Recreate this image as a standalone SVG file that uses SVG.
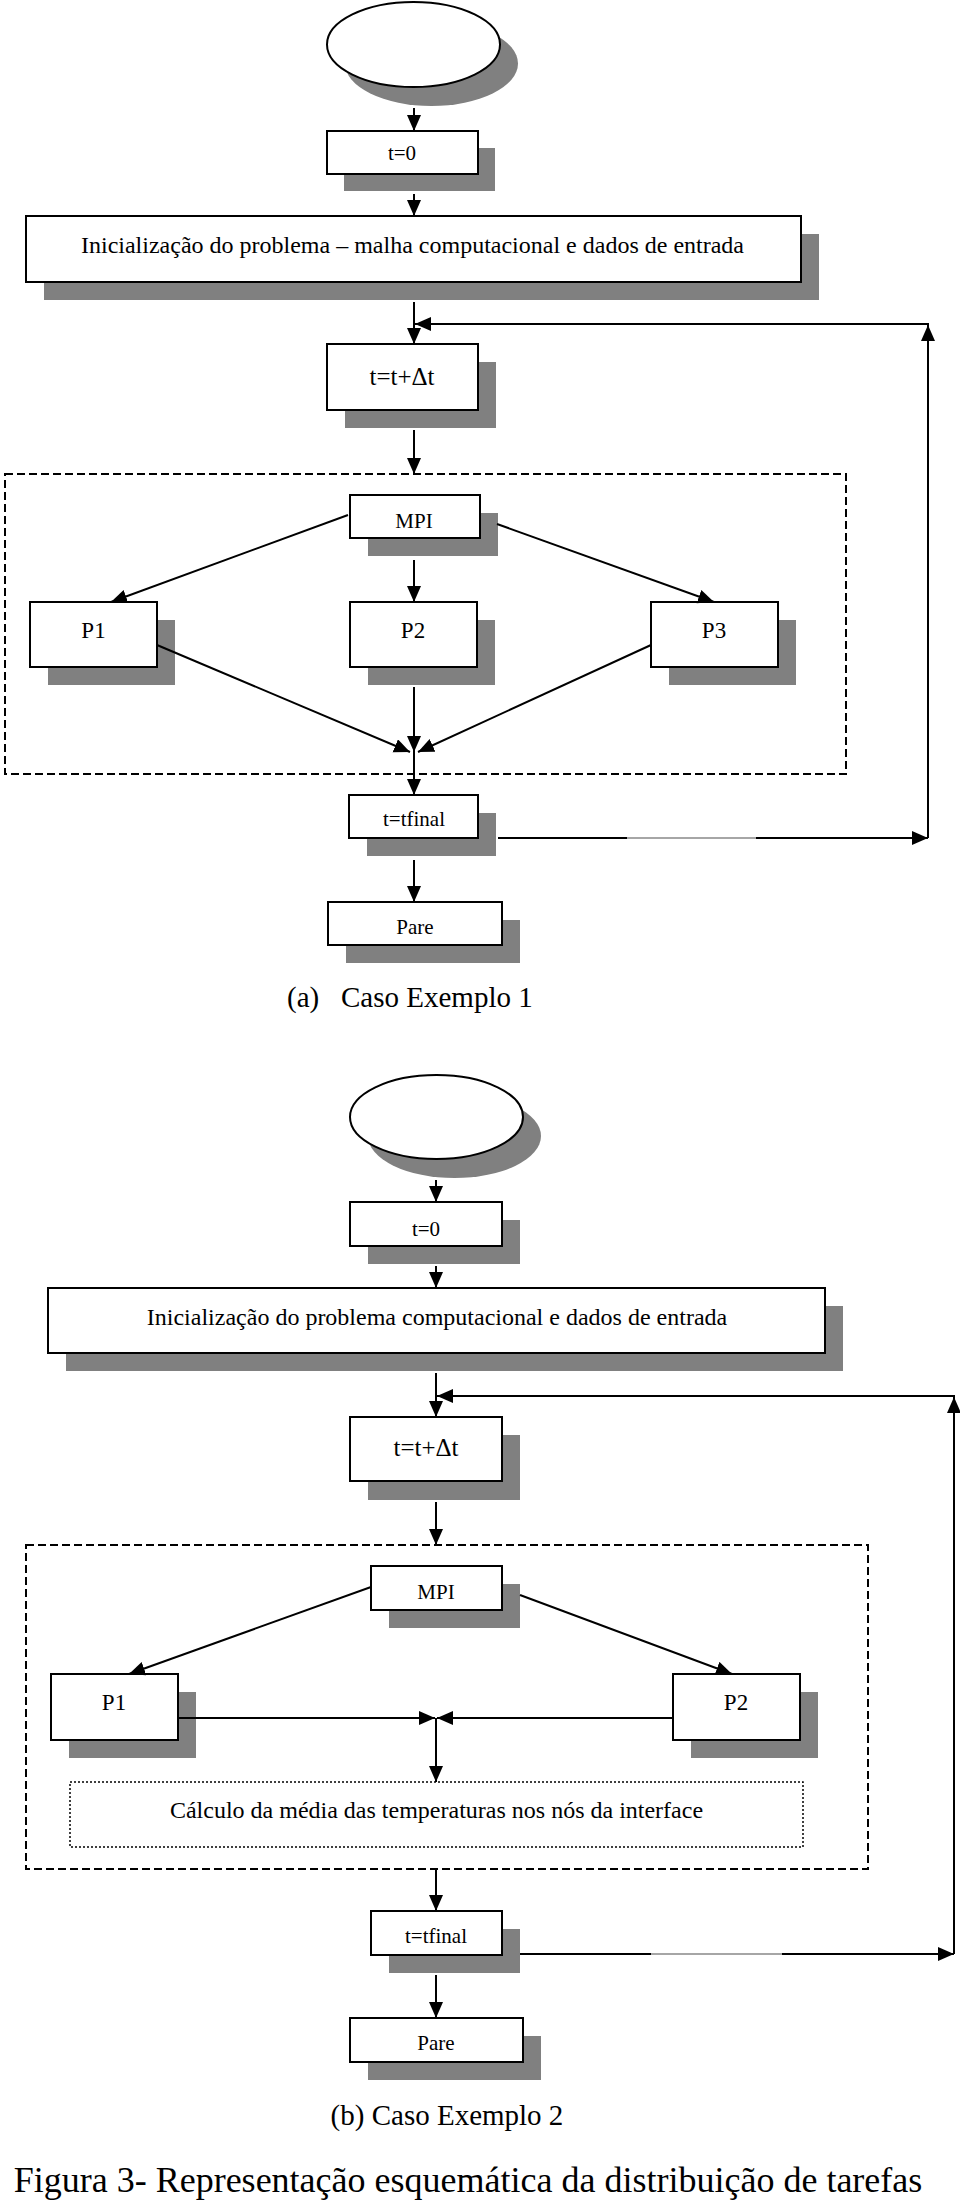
<svg xmlns="http://www.w3.org/2000/svg" width="960" height="2200" viewBox="0 0 960 2200">
<defs>
<marker id="ah" markerUnits="userSpaceOnUse" markerWidth="17" markerHeight="15" refX="16" refY="7" orient="auto">
<path d="M0,0 L16,7 L0,14 z" fill="#000"/>
</marker>
<style>
.box{fill:#fff;stroke:#000;stroke-width:2}
.sh{fill:#808080;stroke:none}
.t{font-family:"Liberation Serif","Times New Roman",serif;fill:#000;text-anchor:middle}
.c{fill:none;stroke:#000;stroke-width:2;marker-end:url(#ah)}
.ln{fill:none;stroke:#000;stroke-width:2}
.gl{fill:none;stroke:#888;stroke-width:1.5}
.dash{fill:none;stroke:#000;stroke-width:2;stroke-dasharray:8 4}
.dot{fill:none;stroke:#000;stroke-width:1.5;stroke-dasharray:2 2}
</style>
</defs>
<rect width="960" height="2200" fill="#fff"/>

<!-- ===== Diagram (a) ===== -->
<g id="a-group"><rect class="dash" x="5" y="474" width="841" height="300"/></g>
<g id="a-start"><ellipse class="sh" cx="431.5" cy="63.5" rx="86.5" ry="42.5"/><ellipse class="box" cx="413.5" cy="44.5" rx="86.5" ry="42.5"/></g>
<g id="a-t0"><rect class="sh" x="344" y="148" width="151" height="43"/><rect class="box" x="327" y="131" width="151" height="43"/><text class="t" x="402" y="160" font-size="21">t=0</text></g>
<g id="a-init"><rect class="sh" x="44" y="234" width="775" height="66"/><rect class="box" x="26" y="216" width="775" height="66"/><text class="t" x="412.5" y="253" font-size="24">Inicialização do problema – malha computacional e dados de entrada</text></g>
<g id="a-tdt"><rect class="sh" x="345" y="362" width="151" height="66"/><rect class="box" x="327" y="344" width="151" height="66"/><text class="t" x="402" y="385" font-size="25">t=t+Δt</text></g>
<g id="a-mpi"><rect class="sh" x="368" y="513" width="130" height="43"/><rect class="box" x="350" y="495" width="130" height="43"/><text class="t" x="414" y="528" font-size="21">MPI</text></g>
<g id="a-p1"><rect class="sh" x="48" y="620" width="127" height="65"/><rect class="box" x="30" y="602" width="127" height="65"/><text class="t" x="93.5" y="638" font-size="23">P1</text></g>
<g id="a-p2"><rect class="sh" x="368" y="620" width="127" height="65"/><rect class="box" x="350" y="602" width="127" height="65"/><text class="t" x="413" y="638" font-size="23">P2</text></g>
<g id="a-p3"><rect class="sh" x="669" y="620" width="127" height="65"/><rect class="box" x="651" y="602" width="127" height="65"/><text class="t" x="714" y="638" font-size="23">P3</text></g>
<g id="a-tfinal"><rect class="sh" x="367" y="813" width="129" height="43"/><rect class="box" x="349" y="795" width="129" height="43"/><text class="t" x="414" y="826" font-size="21">t=tfinal</text></g>
<g id="a-pare"><rect class="sh" x="346" y="920" width="174" height="43"/><rect class="box" x="328" y="902" width="174" height="43"/><text class="t" x="415" y="934" font-size="21">Pare</text></g>
<g id="a-caption"><text class="t" style="text-anchor:start" x="287" y="1007" font-size="29">(a)</text><text class="t" style="text-anchor:start" x="341" y="1007" font-size="29">Caso Exemplo 1</text></g>

<!-- ===== Diagram (b) ===== -->
<g id="b-group"><rect class="dash" x="26" y="1545" width="842" height="324"/></g>
<g id="b-start"><ellipse class="sh" cx="454.5" cy="1136" rx="86.5" ry="42"/><ellipse class="box" cx="436.5" cy="1117" rx="86.5" ry="42"/></g>
<g id="b-t0"><rect class="sh" x="368" y="1220" width="152" height="44"/><rect class="box" x="350" y="1202" width="152" height="44"/><text class="t" x="426" y="1236" font-size="21">t=0</text></g>
<g id="b-init"><rect class="sh" x="66" y="1306" width="777" height="65"/><rect class="box" x="48" y="1288" width="777" height="65"/><text class="t" x="437" y="1325" font-size="24">Inicialização do problema computacional e dados de entrada</text></g>
<g id="b-tdt"><rect class="sh" x="368" y="1435" width="152" height="65"/><rect class="box" x="350" y="1417" width="152" height="64"/><text class="t" x="426" y="1456" font-size="25">t=t+Δt</text></g>
<g id="b-mpi"><rect class="sh" x="389" y="1584" width="131" height="44"/><rect class="box" x="371" y="1566" width="131" height="44"/><text class="t" x="436" y="1599" font-size="21">MPI</text></g>
<g id="b-p1"><rect class="sh" x="69" y="1692" width="127" height="66"/><rect class="box" x="51" y="1674" width="127" height="66"/><text class="t" x="114" y="1710" font-size="23">P1</text></g>
<g id="b-p2"><rect class="sh" x="691" y="1692" width="127" height="66"/><rect class="box" x="673" y="1674" width="127" height="66"/><text class="t" x="736" y="1710" font-size="23">P2</text></g>
<g id="b-calc"><rect class="dot" x="70" y="1782" width="733" height="65"/><text class="t" x="436.5" y="1818" font-size="24">Cálculo da média das temperaturas nos nós da interface</text></g>
<g id="b-tfinal"><rect class="sh" x="389" y="1929" width="131" height="44"/><rect class="box" x="371" y="1911" width="131" height="44"/><text class="t" x="436" y="1943" font-size="21">t=tfinal</text></g>
<g id="b-pare"><rect class="sh" x="368" y="2036" width="173" height="44"/><rect class="box" x="350" y="2018" width="173" height="44"/><text class="t" x="436" y="2050" font-size="21">Pare</text></g>
<g id="b-caption"><text class="t" x="447" y="2125" font-size="29">(b) Caso Exemplo 2</text></g>

<g id="figure-caption"><text class="t" x="468" y="2192" font-size="36">Figura 3- Representação esquemática da distribuição de tarefas</text></g>

<!-- ===== Connectors ===== -->
<g id="connectors">
<!-- (a) -->
<path class="c" d="M414,108 L414,131"/>
<path class="c" d="M414,194 L414,216"/>
<path class="c" d="M414,302 L414,344"/>
<path class="c" d="M414,430 L414,474"/>
<path class="c" d="M348,515 L111,602"/>
<path class="c" d="M414,560 L414,602"/>
<path class="c" d="M497,524 L714,602"/>
<path class="c" d="M157,645 L410,752"/>
<path class="c" d="M414,687 L414,752"/>
<path class="c" d="M651,645 L418,752"/>
<path class="c" d="M414,752 L414,795"/>
<path class="ln" d="M498,838 L627,838"/>
<path class="gl" d="M627,838 L756,838"/>
<path class="c" d="M756,838 L928,838"/>
<path class="c" d="M928,838 L928,325"/>
<path class="c" d="M929,324 L415,324"/>
<path class="c" d="M414,860 L414,902"/>
<!-- (b) -->
<path class="c" d="M436,1180 L436,1202"/>
<path class="c" d="M436,1266 L436,1288"/>
<path class="c" d="M436,1373 L436,1417"/>
<path class="c" d="M436,1502 L436,1545"/>
<path class="c" d="M371,1587 L129,1674"/>
<path class="c" d="M520,1595 L732,1674"/>
<path class="c" d="M178,1718 L435,1718"/>
<path class="c" d="M673,1718 L437,1718"/>
<path class="c" d="M436,1718 L436,1782"/>
<path class="c" d="M436,1869 L436,1911"/>
<path class="ln" d="M520,1954 L651,1954"/>
<path class="gl" d="M651,1954 L782,1954"/>
<path class="c" d="M782,1954 L954,1954"/>
<path class="c" d="M954,1954 L954,1397"/>
<path class="c" d="M955,1396 L437,1396"/>
<path class="c" d="M436,1975 L436,2018"/>
</g>
</svg>
